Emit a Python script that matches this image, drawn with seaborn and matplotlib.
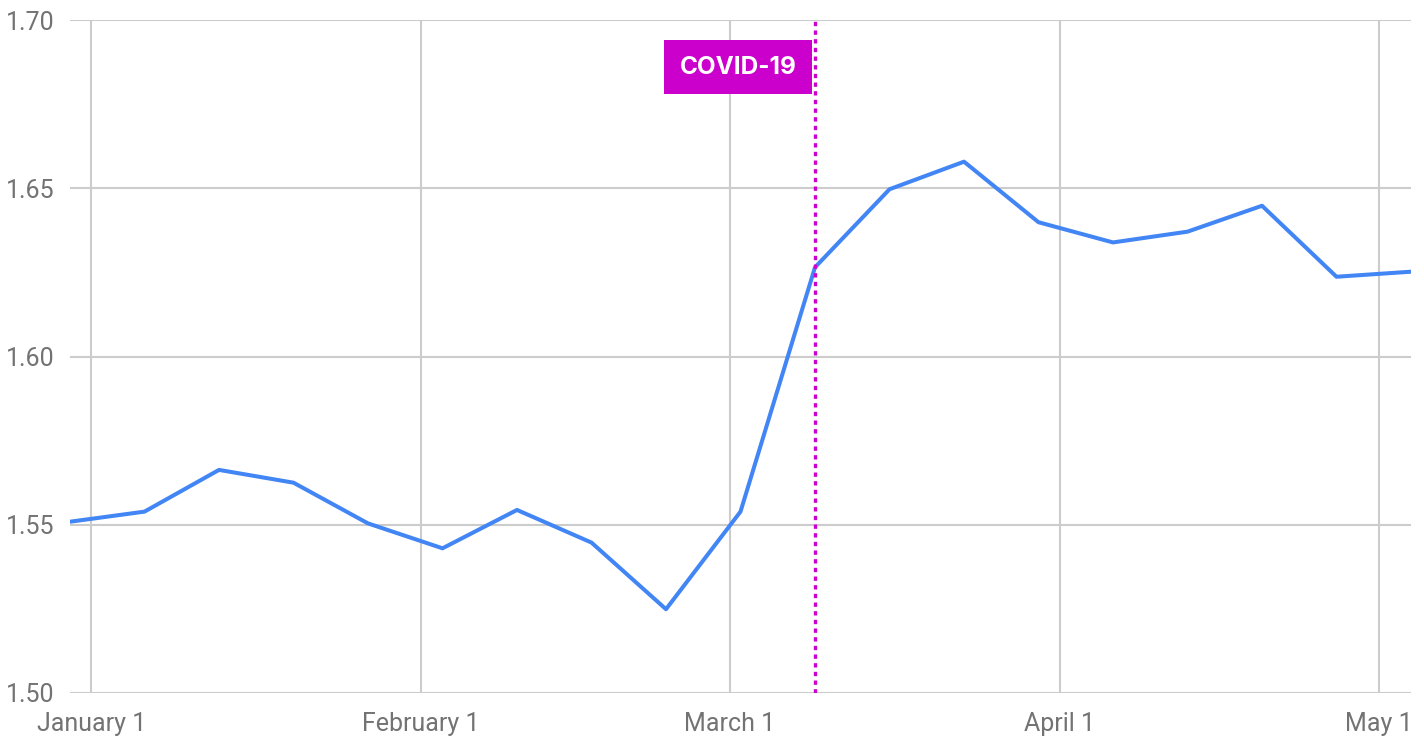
import matplotlib
import matplotlib.pyplot as plt
import numpy as np
import pandas as pd
import seaborn as sns

matplotlib.use("Agg")

# weekly values (2019-12-30 .. 2020-05-04)
week_start = pd.date_range("2019-12-30", periods=19, freq="7D")
values = [
    1.5509, 1.5539, 1.5663, 1.5625, 1.5504, 1.5430, 1.5544, 1.5447, 1.5249,
    1.5539, 1.6265, 1.6497, 1.6579, 1.6399, 1.6339, 1.6371, 1.6448, 1.6237,
    1.6252,
]

x_ticks = pd.to_datetime(["2020-01-01", "2020-02-01", "2020-03-01", "2020-04-01", "2020-05-01"])
x_tick_labels = ["January 1", "February 1", "March 1", "April 1", "May 1"]
y_ticks = [1.50, 1.55, 1.60, 1.65, 1.70]

event_date = pd.Timestamp("2020-03-09")
event_label = "COVID-19"

LINE_COLOR = "#4285F4"
EVENT_COLOR = "#CC00CC"
GRID_COLOR = "#CCCCCC"
TEXT_COLOR = "#737373"


def main():
    sns.set_theme(style="white")
    plt.rcParams["font.family"] = ["Roboto", "DejaVu Sans"]

    df = pd.DataFrame({"date": week_start, "value": values})

    W, H = 1424, 737
    fig = plt.figure(figsize=(W / 100, H / 100), dpi=100)
    ax = fig.add_axes([70 / W, (H - 693) / H, (1411 - 70) / W, (693 - 20) / H])

    sns.lineplot(data=df, x="date", y="value", ax=ax, color=LINE_COLOR, linewidth=2.9)

    ax.set_xlim(week_start[0], week_start[-1])
    ax.set_ylim(y_ticks[0], y_ticks[-1])
    ax.set_xticks(x_ticks)
    ax.set_xticklabels(x_tick_labels)
    ax.set_yticks(y_ticks)
    ax.set_yticklabels([f"{v:.2f}" for v in y_ticks])

    ax.grid(True, color=GRID_COLOR, linewidth=1.5)
    ax.set_axisbelow(True)
    for s in ax.spines.values():
        s.set_visible(False)
    ax.tick_params(axis="x", length=0, pad=14, labelsize=18, labelcolor=TEXT_COLOR)
    ax.tick_params(axis="y", length=0, pad=11, labelsize=18, labelcolor=TEXT_COLOR)
    ax.set_xlabel("")
    ax.set_ylabel("")

    # event marker
    ax.axvline(event_date, color=EVENT_COLOR, linewidth=2.4, linestyle=(0, (1.3, 1.3)), zorder=3)
    ax.annotate(
        event_label,
        xy=(event_date, 1.0),
        xycoords=("data", "axes fraction"),
        xytext=(-77, -47),
        textcoords="offset pixels",
        ha="center",
        va="center",
        color="white",
        fontsize=17.5,
        fontweight="bold",
        family=["Inter", "DejaVu Sans"],
        bbox=dict(boxstyle="square,pad=0.62", fc=EVENT_COLOR, ec="none"),
        zorder=4,
    )

    fig.savefig("out.png", dpi=100)
    plt.close(fig)


if __name__ == "__main__":
    main()
